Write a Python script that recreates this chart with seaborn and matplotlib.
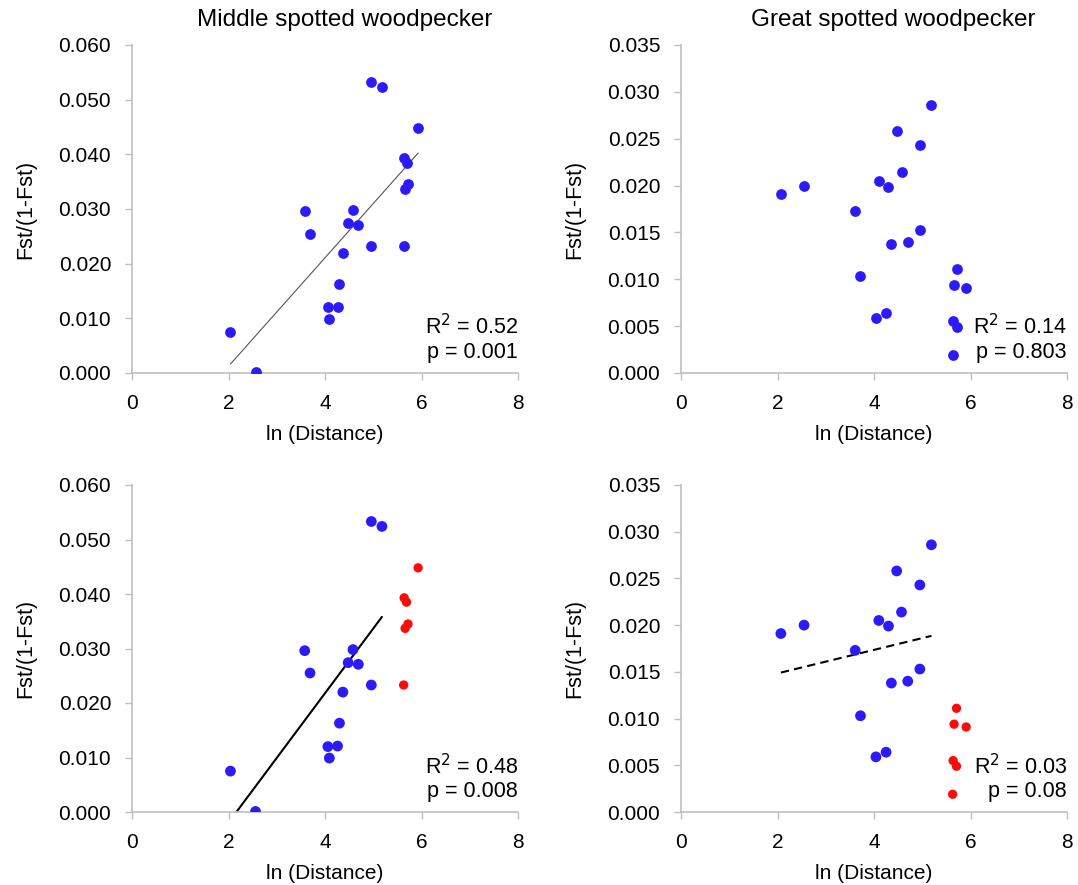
import numpy as np
import matplotlib
matplotlib.use("Agg")
import matplotlib.pyplot as plt
import pandas as pd
import seaborn as sns

# 讀圖估計的資料 (ln distance, Fst/(1-Fst))
ms_dist = [2.04, 2.56, 3.58, 3.69, 4.06, 4.09, 4.26, 4.30, 4.37, 4.48, 4.58,
           4.69, 4.96, 4.96, 5.18, 5.63, 5.64, 5.69, 5.66, 5.72, 5.93]
ms_fst = [0.0075, 0.0001, 0.0296, 0.0255, 0.0120, 0.0099, 0.0121, 0.0163,
          0.0220, 0.0274, 0.0298, 0.0271, 0.0533, 0.0233, 0.0524, 0.0233,
          0.0393, 0.0385, 0.0337, 0.0345, 0.0448]
gs_dist = [2.07, 2.55, 3.61, 3.72, 4.04, 4.10, 4.25, 4.30, 4.36, 4.47, 4.57,
           4.70, 4.95, 4.95, 5.19, 5.71, 5.66, 5.91, 5.64, 5.71, 5.63]
gs_fst = [0.0191, 0.0200, 0.0173, 0.0103, 0.0059, 0.0205, 0.0064, 0.0199,
          0.0138, 0.0258, 0.0214, 0.0140, 0.0243, 0.0153, 0.0286, 0.0111,
          0.0094, 0.0091, 0.0055, 0.0049, 0.0019]
# 最後6個族群對為紅點 (排除於第二列的回歸)
group = ["in"] * 15 + ["out"] * 6

ms_stats = [("0.52", "0.001"), ("0.48", "0.008")]
gs_stats = [("0.14", "0.803"), ("0.03", "0.08")]

BLUE = "#2B1BF8"
RED = "#FF0A0A"
GRID_C = "#BFBFBF"

sns.set_style("ticks")
plt.rcParams["font.family"] = ["Liberation Sans", "DejaVu Sans"]
plt.rcParams["text.color"] = "black"
plt.rcParams["axes.labelcolor"] = "black"
plt.rcParams["xtick.labelcolor"] = "black"
plt.rcParams["ytick.labelcolor"] = "black"

ms = pd.DataFrame({"dist": ms_dist, "fst": ms_fst, "group": group})
gs = pd.DataFrame({"dist": gs_dist, "fst": gs_fst, "group": group})

fig = plt.figure(figsize=(10.78, 8.85), dpi=100)
W, H = 1078, 885
boxes = [(132, 45, 386, 328), (681, 45, 386, 328),
         (132, 485, 386, 327), (681, 485, 386, 327)]
axes = [fig.add_axes([x / W, 1 - (y + h) / H, w / W, h / H]) for x, y, w, h in boxes]


def style_axis(ax, ymax, ystep):
    ax.set_xlim(0, 8)
    ax.set_ylim(0, ymax)
    ax.set_xticks(np.arange(0, 9, 2))
    yt = np.arange(0, ymax + ystep / 2, ystep)
    ax.set_yticks(yt)
    ax.set_yticklabels([f"{v:.3f}" for v in yt])
    ax.tick_params(direction="out", length=5, width=1, color=GRID_C,
                   labelsize=15, pad=10)
    for s in ["top", "right"]:
        ax.spines[s].set_visible(False)
    for s in ["left", "bottom"]:
        ax.spines[s].set_color(GRID_C)
        ax.spines[s].set_linewidth(1.2)
    ax.set_xlabel("ln (Distance)", fontsize=15, labelpad=9)
    ax.set_ylabel("Fst/(1-Fst)", fontsize=15.5, labelpad=16)


def stats_text(ax, r2, p):
    ax.text(1.0, 0.14, f"R$^2$ = {r2}", transform=ax.transAxes,
            ha="right", va="center", fontsize=15.5)
    ax.text(1.0, 0.062, f"p = {p}", transform=ax.transAxes,
            ha="right", va="center", fontsize=15.5)


# 上排：全部資料都是藍點
ax = axes[0]
sns.scatterplot(data=ms, x="dist", y="fst", color=BLUE, s=60, linewidth=0,
                ax=ax, zorder=3)
sns.regplot(data=ms, x="dist", y="fst", scatter=False, ci=None, ax=ax,
            line_kws={"color": "#555555", "lw": 0.8})
style_axis(ax, 0.060, 0.010)
ax.set_title("Middle spotted woodpecker", fontsize=17.5, x=0.55, pad=14)
stats_text(ax, *ms_stats[0])

ax = axes[1]
sns.scatterplot(data=gs, x="dist", y="fst", color=BLUE, s=60, linewidth=0,
                ax=ax, zorder=3)
style_axis(ax, 0.035, 0.005)
ax.set_title("Great spotted woodpecker", fontsize=17.5, x=0.55, pad=14)
stats_text(ax, *gs_stats[0])

# 下排：紅點排除，回歸只用藍點
ax = axes[2]
sns.scatterplot(data=ms, x="dist", y="fst", hue="group", size="group",
                sizes={"in": 60, "out": 45}, palette={"in": BLUE, "out": RED},
                linewidth=0, legend=False, ax=ax, zorder=3)
sns.regplot(data=ms[ms.group == "in"], x="dist", y="fst", scatter=False,
            ci=None, ax=ax, line_kws={"color": "black", "lw": 1.5})
style_axis(ax, 0.060, 0.010)
stats_text(ax, *ms_stats[1])

ax = axes[3]
sns.scatterplot(data=gs, x="dist", y="fst", hue="group", size="group",
                sizes={"in": 60, "out": 45}, palette={"in": BLUE, "out": RED},
                linewidth=0, legend=False, ax=ax, zorder=3)
sns.regplot(data=gs[gs.group == "in"], x="dist", y="fst", scatter=False,
            ci=None, ax=ax, line_kws={"color": "black", "lw": 1.5, "ls": (0, (4, 2.5))})
style_axis(ax, 0.035, 0.005)
stats_text(ax, *gs_stats[1])

fig.savefig("out.png", dpi=100)
